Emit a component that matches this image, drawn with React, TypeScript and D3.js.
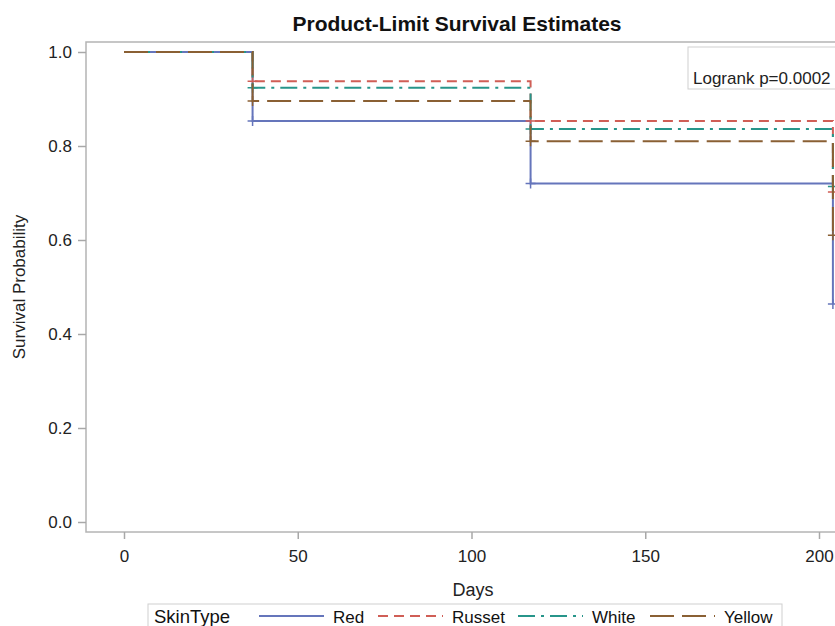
import React, { useRef, useEffect } from 'react'
import * as d3 from 'd3'

// step times (days) and survival estimates per skin type
const times = [0, 37, 117, 204]
const red = [1.0, 0.853, 0.72, 0.464]
const russet = [1.0, 0.938, 0.853, 0.702]
const white = [1.0, 0.924, 0.836, 0.714]
const yellow = [1.0, 0.896, 0.81, 0.61]
const censorTimes = [37, 117, 204]

const groups = ['Red', 'Russet', 'White', 'Yellow']
const xTicks = [0, 50, 100, 150, 200]
const yTicks = [0, 0.2, 0.4, 0.6, 0.8, 1.0]

const colors = ['#6575bb', '#d05e56', '#27958a', '#8a6034']
const dashes = ['none', '10,6', '17,6,3,6', '24,8']

const App = () => {
  const svgRef = useRef<SVGSVGElement>(null)

  useEffect(() => {
    const w = 835
    const h = 626
    const svg = d3.select(svgRef.current)
    svg.selectAll('*').remove()
    svg.attr('width', w).attr('height', h)

    const font = '"Liberation Sans", Arial, sans-serif'
    const left = 86, top = 42, bottom = 532

    const x = d3.scaleLinear().domain([0, 200]).range([124, 819])
    const y = d3.scaleLinear().domain([0, 1]).range([522, 52])

    // title
    svg.append('text')
      .attr('x', 457).attr('y', 31)
      .attr('text-anchor', 'middle')
      .style('font-family', font).style('font-size', '21px').style('font-weight', 'bold')
      .attr('fill', '#111')
      .text('Product-Limit Survival Estimates')

    // frame
    svg.append('rect')
      .attr('x', left).attr('y', top)
      .attr('width', 900).attr('height', bottom - top)
      .attr('fill', 'none').attr('stroke', '#b4b4b4').attr('stroke-width', 1.5)

    // axes
    const xAxis = d3.axisBottom(x).tickValues(xTicks).tickSize(7).tickFormat(d => String(d))
    const yAxis = d3.axisLeft(y).tickValues(yTicks).tickSize(8).tickFormat(d3.format('.1f'))
    const gx = svg.append('g').attr('transform', `translate(0,${bottom})`).call(xAxis)
    const gy = svg.append('g').attr('transform', `translate(${left},0)`).call(yAxis)
    ;[gx, gy].forEach(g => {
      g.select('.domain').remove()
      g.selectAll('line').attr('stroke', '#a8a8a8').attr('stroke-width', 1.5)
      g.selectAll('text').style('font-family', font).style('font-size', '17px').attr('fill', '#222')
    })
    gx.selectAll('text').attr('y', 30).attr('dy', 0)
    gy.selectAll('text').attr('x', -14)

    svg.append('text')
      .attr('x', 473).attr('y', 596).attr('text-anchor', 'middle')
      .style('font-family', font).style('font-size', '18px').attr('fill', '#222')
      .text('Days')
    svg.append('text')
      .attr('transform', `translate(25,${y(0.5)}) rotate(-90)`)
      .attr('text-anchor', 'middle')
      .style('font-family', font).style('font-size', '17px').attr('fill', '#222')
      .text('Survival Probability')

    // survival curves
    const series = [red, russet, white, yellow]
    const step = d3.line<number>()
      .x((d, i) => x(times[i]))
      .y(d => y(d))
      .curve(d3.curveStepAfter)

    const plot = svg.append('g')
    series.forEach((vals, k) => {
      plot.append('path')
        .attr('d', step(vals))
        .attr('fill', 'none')
        .attr('stroke', colors[k])
        .attr('stroke-width', 2)
        .attr('stroke-dasharray', dashes[k])
      // censor marks
      censorTimes.forEach(t => {
        const i = times.indexOf(t)
        const cx = x(t), cy = y(vals[i])
        plot.append('path')
          .attr('d', `M${cx - 5},${cy}H${cx + 5}M${cx},${cy - 5}V${cy + 5}`)
          .attr('stroke', colors[k]).attr('stroke-width', 1.5)
      })
    })

    // logrank inset
    svg.append('rect')
      .attr('x', 688).attr('y', 47).attr('width', 170).attr('height', 42)
      .attr('fill', 'white').attr('stroke', '#cfcfcf')
    svg.append('text')
      .attr('x', 693).attr('y', 84)
      .style('font-family', font).style('font-size', '17px').attr('fill', '#222')
      .text('Logrank p=0.0002')

    // legend
    const lg = svg.append('g')
    lg.append('rect')
      .attr('x', 148).attr('y', 604).attr('width', 634).attr('height', 30)
      .attr('fill', 'white').attr('stroke', '#cfcfcf')
    lg.append('text')
      .attr('x', 154).attr('y', 623)
      .style('font-family', font).style('font-size', '18.5px').attr('fill', '#111')
      .text('SkinType')
    const lineStart = [259, 378, 518, 650]
    groups.forEach((g, k) => {
      lg.append('line')
        .attr('x1', lineStart[k]).attr('x2', lineStart[k] + 65)
        .attr('y1', 616).attr('y2', 616)
        .attr('stroke', colors[k]).attr('stroke-width', 2)
        .attr('stroke-dasharray', dashes[k])
      lg.append('text')
        .attr('x', lineStart[k] + 74).attr('y', 623)
        .style('font-family', font).style('font-size', '17px').attr('fill', '#111')
        .text(g)
    })
  }, [])

  return (
    <div className='App' style={{ position: 'absolute', left: 0, top: 0 }}>
      <svg ref={svgRef} style={{ display: 'block' }}></svg>
    </div>
  )
}

export default App
